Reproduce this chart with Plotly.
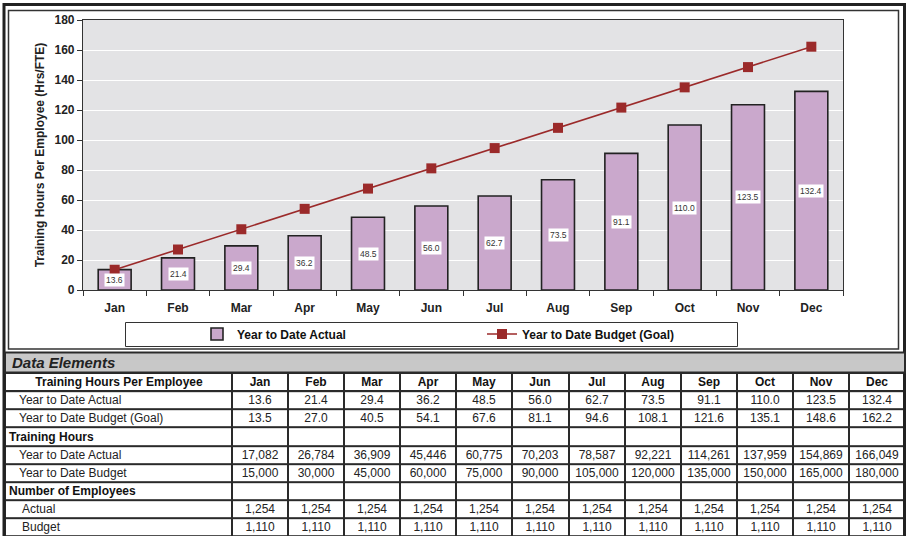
import plotly.graph_objects as go

W, H = 908, 536

months = ["Jan", "Feb", "Mar", "Apr", "May", "Jun", "Jul", "Aug", "Sep", "Oct", "Nov", "Dec"]
ytd_actual_per_emp = [13.6, 21.4, 29.4, 36.2, 48.5, 56.0, 62.7, 73.5, 91.1, 110.0, 123.5, 132.4]
ytd_budget_per_emp = [13.5, 27.0, 40.5, 54.1, 67.6, 81.1, 94.6, 108.1, 121.6, 135.1, 148.6, 162.2]
hours_actual = [17082, 26784, 36909, 45446, 60775, 70203, 78587, 92221, 114261, 137959, 154869, 166049]
hours_budget = [15000, 30000, 45000, 60000, 75000, 90000, 105000, 120000, 135000, 150000, 165000, 180000]
emp_actual = [1254] * 12
emp_budget = [1110] * 12
table_title = "Training Hours Per Employee"
row_labels = ["Year to Date Actual", "Year to Date Budget (Goal)", "Training Hours",
              "Year to Date Actual", "Year to Date Budget", "Number of Employees",
              "Actual", "Budget"]
section_rows = [2, 5]

FONT = "Liberation Sans, Arial, sans-serif"


def px(x):
    return x / W


def py(y):
    return 1 - y / H


def fmt1(a):
    return [f"{v:.1f}" for v in a]


def fmt0(a):
    return [f"{v:,}" for v in a]


fig = go.Figure()

# ---------------- chart ----------------
fig.add_trace(go.Bar(
    x=months, y=ytd_actual_per_emp, name="Year to Date Actual",
    marker=dict(color="#caa8cc", line=dict(color="#222222", width=1.6)),
    width=0.52, hoverinfo="skip", xaxis="x", yaxis="y",
))
fig.add_trace(go.Scatter(
    x=months, y=ytd_budget_per_emp, name="Year to Date Budget (Goal)",
    mode="lines+markers",
    line=dict(color="#9b2a2a", width=1.6),
    marker=dict(symbol="square", size=10, color="#9b2a2a"),
    hoverinfo="skip", xaxis="x", yaxis="y",
))

for m, v in zip(months, ytd_actual_per_emp):
    fig.add_annotation(x=m, y=v / 2, xref="x", yref="y", text=f"{v:.1f}", showarrow=False,
                       font=dict(family=FONT, size=8.5, color="#333333"),
                       bgcolor="white", borderpad=1)

# ---------------- table (heatmap cells on their own axes) ----------------
TBL_X0, TBL_X1 = 5, 905
FIRST_W = 227
col_w = (TBL_X1 - TBL_X0 - FIRST_W) / 12
x_edges = [TBL_X0, TBL_X0 + FIRST_W] + [TBL_X0 + FIRST_W + col_w * (k + 1) for k in range(12)]
n_rows = len(row_labels)

body_text = []
body_rows = [fmt1(ytd_actual_per_emp), fmt1(ytd_budget_per_emp), None,
             fmt0(hours_actual), fmt0(hours_budget), None,
             fmt0(emp_actual), fmt0(emp_budget)]
for r in body_rows:
    body_text.append([""] + (r if r is not None else [""] * 12))

white_scale = [[0, "white"], [1, "white"]]

fig.add_trace(go.Heatmap(
    x=x_edges, y=[0, 1], z=[[0] * 13],
    text=[[table_title] + months], texttemplate="%{text}",
    textfont=dict(family=FONT, size=12, color="#111111", weight="bold"),
    colorscale=white_scale, showscale=False, xgap=2, ygap=2,
    hoverinfo="skip", xaxis="x2", yaxis="y2",
))
fig.add_trace(go.Heatmap(
    x=x_edges, y=list(range(1, n_rows + 2)), z=[[0] * 13 for _ in range(n_rows)],
    text=body_text, texttemplate="%{text}",
    textfont=dict(family=FONT, size=12, color="#222222"),
    colorscale=white_scale, showscale=False, xgap=2, ygap=2,
    hoverinfo="skip", xaxis="x2", yaxis="y2",
))

indent_px = [17, 17, 7, 17, 17, 7, 20, 20]
for i, lab in enumerate(row_labels):
    bold = i in section_rows
    fig.add_annotation(xref="x2", yref="y2", x=indent_px[i], y=i + 1.5,
                       xanchor="left", yanchor="middle",
                       text=f"<b>{lab}</b>" if bold else lab, showarrow=False,
                       font=dict(family=FONT, size=12, color="#111111" if bold else "#222222"))

shapes = [
    # chart plot-area background
    dict(type="rect", xref="x domain", yref="y domain", x0=0, x1=1, y0=0, y1=1,
         fillcolor="#e3e3e5", line=dict(width=0), layer="below"),
    # dark backing that shows through the table cell gaps as grid lines
    dict(type="rect", xref="paper", yref="paper", x0=px(4), x1=px(906), y0=py(540), y1=py(372),
         fillcolor="#2a2a2a", line=dict(width=0), layer="below"),
    # outer thick frame
    dict(type="rect", xref="paper", yref="paper", x0=px(4), x1=px(904.5), y0=py(540), y1=py(4.5),
         line=dict(color="#222222", width=3)),
    # inner chart frame
    dict(type="rect", xref="paper", yref="paper", x0=px(8.5), x1=px(898.5), y0=py(349), y1=py(10.5),
         line=dict(color="#333333", width=1.5)),
    # Data Elements band
    dict(type="rect", xref="paper", yref="paper", x0=px(5), x1=px(905), y0=py(372.5), y1=py(352.5),
         fillcolor="#c8c8c8", line=dict(color="#2a2a2a", width=2)),
    # legend box
    dict(type="rect", xref="paper", yref="paper", x0=px(125.5), x1=px(737.5), y0=py(346.5), y1=py(322.5),
         line=dict(color="#333333", width=1)),
]

fig.add_annotation(xref="paper", yref="paper", x=px(10), y=py(362), xanchor="left", yanchor="middle",
                   text="<b><i>Data Elements</i></b>", showarrow=False,
                   font=dict(family=FONT, size=15, color="#222222"))

fig.update_layout(
    width=W, height=H,
    margin=dict(l=0, r=0, t=0, b=0),
    paper_bgcolor="white",
    plot_bgcolor="rgba(0,0,0,0)",
    font=dict(family=FONT, size=11, color="#222222"),
    shapes=shapes,
    showlegend=True,
    legend=dict(orientation="h", x=px(197), y=py(334), xanchor="left", yanchor="middle",
                bgcolor="rgba(0,0,0,0)", borderwidth=0,
                entrywidth=240, entrywidthmode="pixels",
                font=dict(family=FONT, size=12, color="#111111", weight="bold"),
                traceorder="normal"),
    xaxis=dict(
        domain=[px(83), px(843)],
        anchor="y", range=[-0.5, len(months) - 0.5], automargin=False,
        showline=True, linecolor="#333333", linewidth=1.2, mirror=True,
        ticks="outside", ticklen=5, tickcolor="#333333", tickson="boundaries",
        tickfont=dict(family=FONT, size=12, color="#222222", weight="bold"),
        ticklabelstandoff=6,
        showgrid=False, fixedrange=True,
    ),
    yaxis=dict(
        domain=[py(290), py(20)],
        anchor="x", automargin=False,
        range=[0, 180], dtick=20,
        showline=True, linecolor="#333333", linewidth=1.2, mirror=True,
        ticks="outside", ticklen=5, tickcolor="#333333",
        tickfont=dict(family=FONT, size=12, color="#222222", weight="bold"),
        showgrid=True, gridcolor="white", gridwidth=1,
        zeroline=False, fixedrange=True,
        title=dict(text="Training Hours Per Employee (Hrs/FTE)", standoff=7,
                   font=dict(family=FONT, size=12, color="#222222", weight="bold")),
    ),
    xaxis2=dict(domain=[px(TBL_X0), px(TBL_X1)], range=[TBL_X0, TBL_X1], anchor="y2",
                visible=False, fixedrange=True),
    yaxis2=dict(domain=[0, py(373)], range=[n_rows + 0.97, 0], anchor="x2",
                visible=False, fixedrange=True),
)

fig.write_html("out.html", config={"displayModeBar": False},
               post_script="document.body.style.margin='0px';")
